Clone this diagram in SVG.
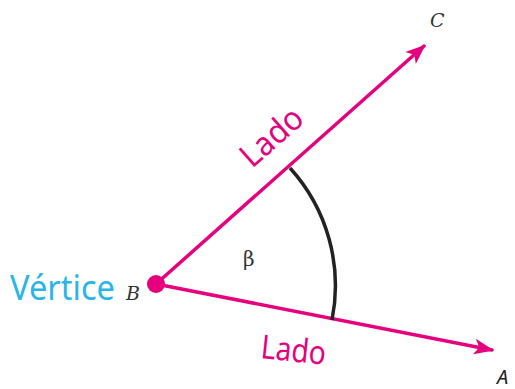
<svg xmlns="http://www.w3.org/2000/svg" width="515" height="389" viewBox="0 0 515 389">
<style>
.side{stroke:#e5007d;stroke-width:3.5;fill:none;stroke-linecap:round}
.lbl{font-family:"Noto Sans","Open Sans",sans-serif;fill:#e5007d;font-size:33px}
.pt{font-family:"DejaVu Serif","Liberation Serif",serif;font-style:italic;fill:#333;font-size:19px}
</style>
<defs>
<marker id="ah" viewBox="0 0 20 16" refX="18" refY="8" markerWidth="20" markerHeight="16" markerUnits="userSpaceOnUse" orient="auto">
<path d="M0,0 L20,8 L0,16 L5,8 Z" fill="#e5007d"/>
</marker>
</defs>
<g id="connectors">
<line id="BC" class="side" x1="156" y1="284" x2="424" y2="46" marker-end="url(#ah)"/>
<line id="BA" class="side" x1="156" y1="284" x2="492" y2="350" marker-end="url(#ah)"/>
<path id="arc" d="M290,168 A175,175 0 0 1 332,320" fill="none" stroke="#222" stroke-width="3.5"/>
</g>
<g id="B">
<circle cx="156" cy="284" r="9" fill="#e5007d"/>
<text x="10" y="300" font-family="Noto Sans,'Open Sans',sans-serif" font-size="34" fill="#29b5e8" textLength="105" lengthAdjust="spacingAndGlyphs">Vértice</text>
<text class="pt" x="126" y="300">B</text>
</g>
<g id="C"><text class="pt" x="430" y="27">C</text></g>
<g id="A"><text x="497" y="384" font-family="'Noto Sans',sans-serif" font-style="italic" font-size="20" fill="#222">A</text></g>
<g id="beta"><text x="243" y="266" font-family="'DejaVu Serif','Liberation Serif',serif" font-size="20" fill="#333">β</text></g>
<g id="lado1"><text class="lbl" transform="translate(252,169) rotate(-41.4)" textLength="72" lengthAdjust="spacingAndGlyphs">Lado</text></g>
<g id="lado2"><text class="lbl" transform="translate(260,358) rotate(6)" textLength="65" lengthAdjust="spacingAndGlyphs">Lado</text></g>
</svg>
